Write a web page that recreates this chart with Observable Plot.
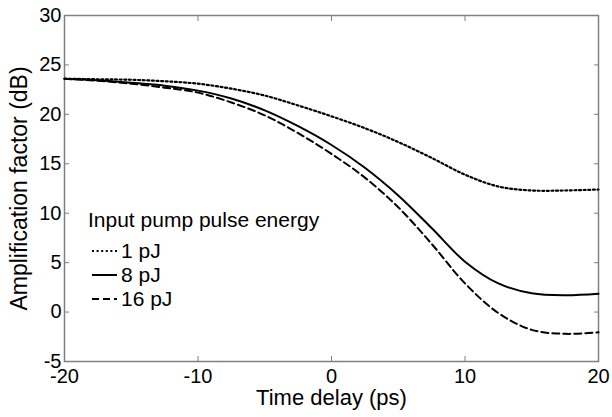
<!DOCTYPE html>
<html>
<head>
<meta charset="utf-8">
<script src="https://cdn.jsdelivr.net/npm/d3@7"></script>
<script src="https://cdn.jsdelivr.net/npm/@observablehq/plot@0.6"></script>
<style>
  html, body { margin: 0; padding: 0; background: #fff; }
  #chart { width: 612px; height: 417px; }
  svg { font-family: "Liberation Sans", Arial, sans-serif; }
</style>
</head>
<body>
<div id="chart"></div>
<script>
const time = [-20, -17.5, -15, -12.5, -10, -7.5, -5, -2.5, 0, 2.5, 5, 7.5, 10, 12.5, 15, 17.5, 20];
const gain1pJ  = [23.6, 23.55, 23.5, 23.35, 23.1, 22.6, 21.9, 20.9, 19.8, 18.6, 17.2, 15.6, 13.9, 12.7, 12.3, 12.3, 12.4];
const gain8pJ  = [23.6, 23.45, 23.2, 22.9, 22.4, 21.6, 20.4, 18.8, 16.9, 14.6, 11.8, 8.5, 5.1, 2.9, 1.9, 1.7, 1.85];
const gain16pJ = [23.6, 23.4, 23.1, 22.7, 22.2, 21.2, 19.9, 18.1, 16.0, 13.6, 10.6, 6.9, 2.9, -0.1, -1.8, -2.2, -2.05];
const seriesNames = ["1 pJ", "8 pJ", "16 pJ"];
const xTicks = [-20, -10, 0, 10, 20];
const yTicks = [-5, 0, 5, 10, 15, 20, 25, 30];
const xLabel = "Time delay (ps)";
const yLabel = "Amplification factor (dB)";
const legendTitle = "Input pump pulse energy";

const seriesValues = [gain1pJ, gain8pJ, gain16pJ];
const dashes = ["2,2.6", null, "7,4"];
const widths = [2.2, 2, 2];
const rows = seriesNames.flatMap((name, s) => time.map((t, i) => ({series: name, t, g: seriesValues[s][i]})));

const frameColor = "#808080";
const fs = 20;
const fmt = d => String(d);

const marks = [
  Plot.frame({stroke: frameColor, strokeWidth: 1.5}),
  // inward ticks
  Plot.axisX(xTicks, {anchor: "bottom", tickSize: 5, dy: -5, text: null, stroke: frameColor, label: null}),
  Plot.axisX(xTicks, {anchor: "top", tickSize: 5, dy: 5, text: null, stroke: frameColor, label: null}),
  Plot.axisY(yTicks, {anchor: "left", tickSize: 5, dx: 5, text: null, stroke: frameColor, label: null}),
  Plot.axisY(yTicks, {anchor: "right", tickSize: 5, dx: -5, text: null, stroke: frameColor, label: null}),
  // tick labels
  Plot.axisX(xTicks, {anchor: "bottom", tickSize: 0, tickPadding: 7, fontSize: fs, fill: "black", label: null, tickFormat: fmt}),
  Plot.axisY(yTicks, {anchor: "left", tickSize: 0, tickPadding: 3, fontSize: fs, fill: "black", label: null, tickFormat: fmt}),
  // axis titles
  Plot.text([xLabel], {text: d => d, frameAnchor: "bottom", dy: 43.5, fontSize: 22, fill: "black"}),
  Plot.text([yLabel], {text: d => d, frameAnchor: "left", textAnchor: "middle", dx: -45, rotate: -90, fontSize: 23, fill: "black"}),
];
seriesNames.forEach((name, s) => {
  marks.push(Plot.line(rows.filter(d => d.series === name), {
    x: "t", y: "g", curve: "catmull-rom", stroke: "black",
    strokeWidth: widths[s], strokeDasharray: dashes[s]
  }));
});

const chart = Plot.plot({
  width: 612,
  height: 417,
  marginLeft: 64,
  marginRight: 14,
  marginTop: 15,
  marginBottom: 56,
  style: {fontFamily: "'Liberation Sans', Arial, sans-serif", background: "white"},
  x: {domain: [-20, 20]},
  y: {domain: [-5, 30]},
  marks
});

// legend inside plot area
const svg = d3.select(chart);
const lg = svg.append("g").attr("font-size", 21).attr("text-anchor", "start")
  .attr("font-family", "'Liberation Sans', Arial, sans-serif").attr("fill", "black");
lg.append("text").attr("x", 88).attr("y", 220).attr("dy", "0.35em").text(legendTitle);
seriesNames.forEach((name, s) => {
  const cy = 251 + s * 24;
  lg.append("line").attr("x1", 92).attr("x2", 117).attr("y1", cy).attr("y2", cy)
    .attr("stroke", "black").attr("stroke-width", widths[s])
    .attr("stroke-dasharray", dashes[s]);
  lg.append("text").attr("x", 121).attr("y", cy).attr("dy", "0.35em").text(name);
});

document.getElementById("chart").appendChild(chart);
</script>
</body>
</html>
